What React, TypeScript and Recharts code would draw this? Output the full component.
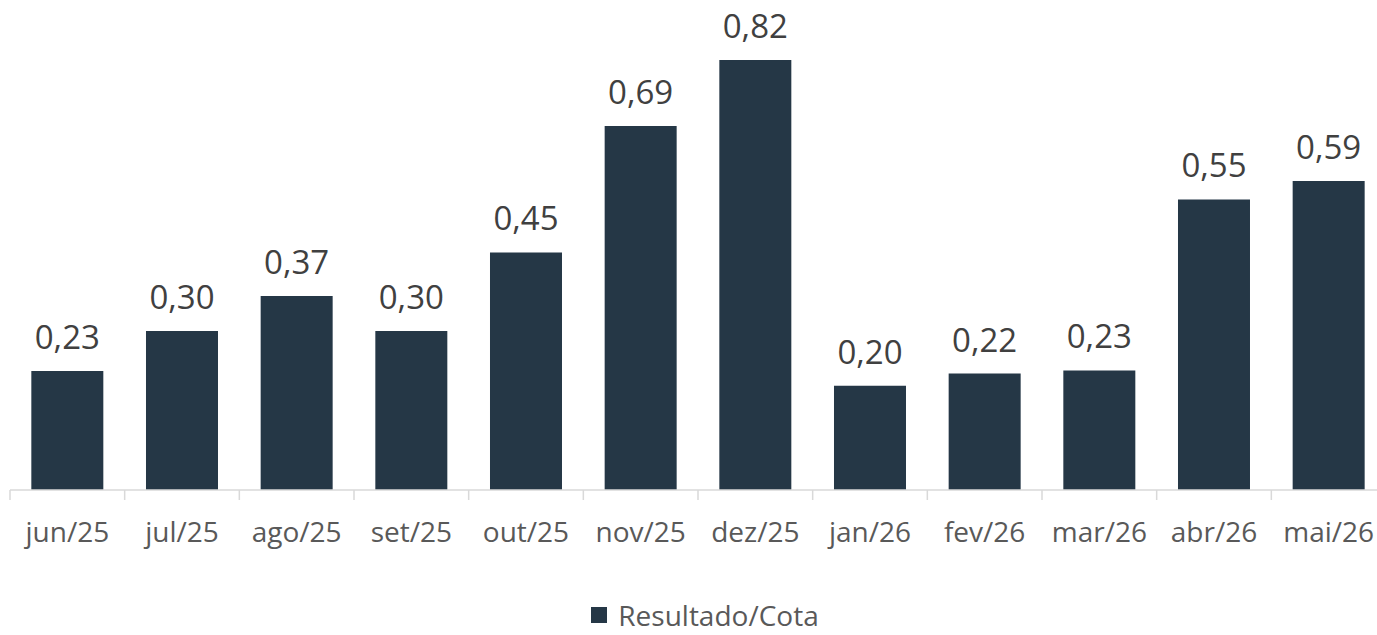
import React from 'react';
import { BarChart, Bar, XAxis, YAxis, LabelList, Legend } from 'recharts';

const months = ['jun/25', 'jul/25', 'ago/25', 'set/25', 'out/25', 'nov/25', 'dez/25', 'jan/26', 'fev/26', 'mar/26', 'abr/26', 'mai/26'];
const resultadoCota = [0.227, 0.303, 0.37, 0.303, 0.453, 0.694, 0.82, 0.199, 0.222, 0.228, 0.554, 0.589];
const seriesName = 'Resultado/Cota';

const data = months.map((m, i) => ({ month: m, value: resultadoCota[i] }));

const BAR_COLOR = '#253746';
const FONT = '"Open Sans", sans-serif';

const fmt = (v: any) => Number(v).toFixed(2).replace('.', ',');

const MonthTick = (props: any) => {
  const { x, y, payload, index, width } = props;
  const half = payload && payload.offset ? payload.offset : width / months.length / 2;
  const last = index === months.length - 1;
  return (
    <g>
      <line x1={x - half} x2={x - half} y1={y} y2={y + 10} stroke="#d9d9d9" strokeWidth={1.5} />
      {last && <line x1={x + half} x2={x + half} y1={y} y2={y + 10} stroke="#d9d9d9" strokeWidth={1.5} />}
      <text x={x} y={y + 52} textAnchor="middle" fontSize={28} fontFamily={FONT} fill="#595959">
        {payload.value}
      </text>
    </g>
  );
};

const LegendContent = () => (
  <div
    style={{
      display: 'flex',
      justifyContent: 'center',
      alignItems: 'center',
      height: 40,
      paddingLeft: 14,
      fontFamily: FONT,
      fontSize: 28,
      color: '#595959',
    }}
  >
    <span style={{ width: 16, height: 16, background: BAR_COLOR, marginRight: 11, display: 'inline-block' }}></span>
    <span>{seriesName}</span>
  </div>
);

const App: React.FC = () => {
  return (
    <div style={{ position: 'fixed', left: 0, top: 0, width: 1377, height: 635, overflow: 'hidden', background: '#fff' }}>
      <BarChart
        width={1400}
        height={635}
        data={data}
        margin={{ top: 18, right: 14, left: 10, bottom: 0 }}
        barCategoryGap="18.6%"
      >
        <XAxis
          dataKey="month"
          axisLine={{ stroke: '#d9d9d9', strokeWidth: 1.5 }}
          tickLine={false}
          tickSize={0}
          tickMargin={0}
          height={105}
          interval={0}
          tick={<MonthTick />}
        />
        <YAxis hide domain={[0, 0.9]} />
        <Legend verticalAlign="bottom" height={40} content={<LegendContent />} />
        <Bar dataKey="value" name={seriesName} fill={BAR_COLOR} isAnimationActive={false}>
          <LabelList
            dataKey="value"
            position="top"
            offset={22}
            formatter={fmt}
            fontSize={33}
            fontFamily={FONT}
            fill="#404040"
          />
        </Bar>
      </BarChart>
    </div>
  );
};

export default App;
